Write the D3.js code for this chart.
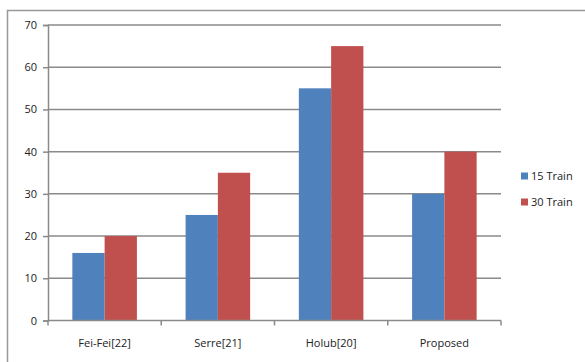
<!DOCTYPE html>
<html>
<head>
<meta charset="utf-8">
<script src="https://cdn.jsdelivr.net/npm/d3@7"></script>
<style>
body { margin: 0; background: #fff; }
svg { display: block; }
text { font-family: "Open Sans", "DejaVu Sans", sans-serif; fill: #222; }
</style>
</head>
<body>
<svg width="585" height="362"></svg>
<script>
var categories = ["Fei-Fei[22]", "Serre[21]", "Holub[20]", "Proposed"];
var seriesNames = ["15 Train", "30 Train"];
var train15 = [16, 25, 55, 30];
var train30 = [20, 35, 65, 40];
var yTicks = [0, 10, 20, 30, 40, 50, 60, 70];
var colors = ["#4f81bd", "#c0504d"];

var svg = d3.select("svg");

// outer chart border (runs off the bottom/right of the picture)
svg.append("rect")
  .attr("x", 7.5).attr("y", 10.5)
  .attr("width", 600).attr("height", 400)
  .attr("fill", "none")
  .attr("stroke", "#999")
  .attr("stroke-width", 1.5);

var plotLeft = 48, plotRight = 501, plotTop = 25, plotBottom = 320.5;

var y = d3.scaleLinear().domain([0, 70]).range([plotBottom, plotTop]);
var x = d3.scaleBand().domain(categories).range([plotLeft, plotRight]).paddingInner(0.43).paddingOuter(0.215);
var x0 = d3.scaleBand().domain(categories).range([plotLeft, plotRight]);
var xs = d3.scaleBand().domain(seriesNames).range([0, x.bandwidth()]);

// gridlines
svg.append("g")
  .selectAll("line")
  .data(yTicks.slice(1))
  .enter().append("line")
  .attr("x1", plotLeft).attr("x2", plotRight)
  .attr("y1", function(d) { return y(d); })
  .attr("y2", function(d) { return y(d); })
  .attr("stroke", "#8a8a8a")
  .attr("stroke-width", 1.5);

// bars
var data = categories.map(function(c, i) {
  return { cat: c, vals: [train15[i], train30[i]] };
});
var groups = svg.append("g")
  .selectAll("g")
  .data(data)
  .enter().append("g")
  .attr("transform", function(d) { return "translate(" + x(d.cat) + ",0)"; });

groups.selectAll("rect")
  .data(function(d) { return d.vals.map(function(v, j) { return { s: seriesNames[j], v: v, j: j }; }); })
  .enter().append("rect")
  .attr("x", function(d) { return xs(d.s); })
  .attr("width", xs.bandwidth())
  .attr("y", function(d) { return y(d.v); })
  .attr("height", function(d) { return plotBottom - y(d.v); })
  .attr("fill", function(d) { return colors[d.j]; });

// y axis
var yAxis = svg.append("g")
  .attr("transform", "translate(" + plotLeft + ",0)")
  .call(d3.axisLeft(y).tickValues(yTicks).tickSize(5).tickPadding(6).tickFormat(d3.format("d")));
yAxis.select(".domain").attr("stroke", "#8a8a8a").attr("stroke-width", 1.5);
yAxis.selectAll(".tick line").attr("stroke", "#8a8a8a").attr("stroke-width", 1.5);
yAxis.selectAll("text").style("font-size", "11px").attr("fill", "#222");

// x axis
var xAxisG = svg.append("g")
  .attr("transform", "translate(0," + plotBottom + ")");
xAxisG.append("line")
  .attr("x1", plotLeft).attr("x2", plotRight)
  .attr("stroke", "#8a8a8a").attr("stroke-width", 1.5);
xAxisG.selectAll(".tk")
  .data(categories.concat(["end"]))
  .enter().append("line")
  .attr("x1", function(d, i) { return i < categories.length ? x0(d) : plotRight; })
  .attr("x2", function(d, i) { return i < categories.length ? x0(d) : plotRight; })
  .attr("y1", 0).attr("y2", 5)
  .attr("stroke", "#8a8a8a").attr("stroke-width", 1.5);
xAxisG.selectAll("text")
  .data(categories)
  .enter().append("text")
  .attr("x", function(d) { return x0(d) + x0.bandwidth() / 2; })
  .attr("y", 23)
  .attr("dy", "0.35em")
  .attr("text-anchor", "middle")
  .style("font-size", "11px")
  .text(function(d) { return d; });

// legend
var legend = svg.append("g")
  .selectAll("g")
  .data(seriesNames)
  .enter().append("g")
  .attr("transform", function(d, i) { return "translate(521," + (176 + i * 26) + ")"; });
legend.append("rect")
  .attr("x", 0).attr("y", -3.5)
  .attr("width", 7).attr("height", 7)
  .attr("fill", function(d, i) { return colors[i]; });
legend.append("text")
  .attr("x", 10).attr("dy", "0.35em")
  .style("font-size", "11px")
  .text(function(d) { return d; });
</script>
</body>
</html>
